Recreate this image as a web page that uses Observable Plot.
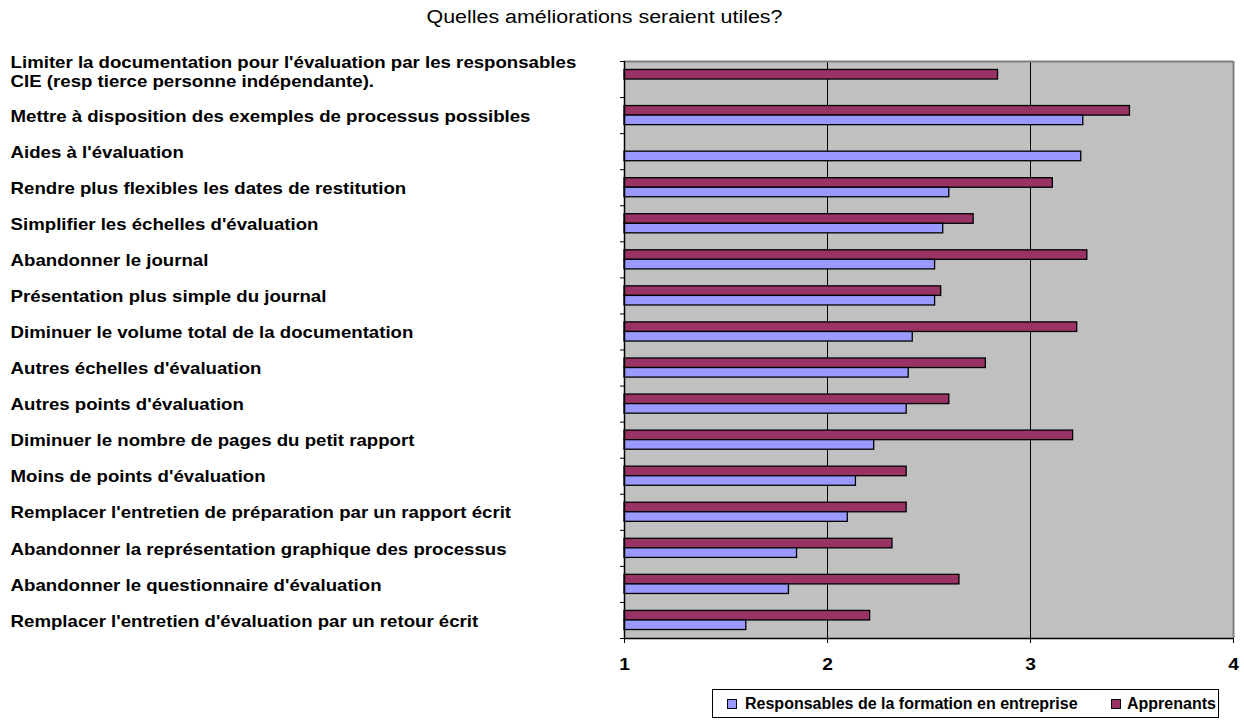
<!DOCTYPE html>
<html>
<head>
<meta charset="utf-8">
<script src="https://cdn.jsdelivr.net/npm/d3@7"></script>
<script src="https://cdn.jsdelivr.net/npm/@observablehq/plot@0.6"></script>
<style>
  html, body { margin: 0; padding: 0; background: #fff; }
  body { font-family: "Liberation Sans", Arial, sans-serif; }
  #wrap { position: relative; width: 1244px; height: 722px; overflow: hidden; }
  #title { position: absolute; left: 0; top: 7px; width: 1209px; text-align: center; font-size: 18px; line-height: 20px; color: #000;
           transform: scaleX(1.19); transform-origin: 604.5px 0; white-space: nowrap; }
  #legend { position: absolute; left: 712px; top: 689px; width: 507px; height: 29px; border: 1px solid #000; box-sizing: border-box; }
  .sw { position: absolute; width: 10px; height: 10px; border: 1px solid #000; box-sizing: border-box; top: 9px; }
  .lt { position: absolute; top: 5px; font-size: 16px; line-height: 18px; font-weight: bold; white-space: nowrap; color: #000; }
</style>
</head>
<body>
<div id="wrap">
  <div id="chart"></div>
  <div id="title"></div>
  <div id="legend"></div>
</div>
<script>
const title = "Quelles améliorations seraient utiles?";
const categories = [
  "Limiter la documentation pour l'évaluation par les responsables\nCIE (resp tierce personne indépendante).",
  "Mettre à disposition des exemples de processus possibles",
  "Aides à l'évaluation",
  "Rendre plus flexibles les dates de restitution",
  "Simplifier les échelles d'évaluation",
  "Abandonner le journal",
  "Présentation plus simple du journal",
  "Diminuer le volume total de la documentation",
  "Autres échelles d'évaluation",
  "Autres points d'évaluation",
  "Diminuer le nombre de pages du petit rapport",
  "Moins de points d'évaluation",
  "Remplacer l'entretien de préparation par un rapport écrit",
  "Abandonner la représentation graphique des processus",
  "Abandonner le questionnaire d'évaluation",
  "Remplacer l'entretien d'évaluation par un retour écrit"
];
const seriesNames = ["Responsables de la formation en entreprise", "Apprenants"];
const responsables = [null, 3.26, 3.25, 2.60, 2.57, 2.53, 2.53, 2.42, 2.40, 2.39, 2.23, 2.14, 2.10, 1.85, 1.81, 1.60];
const apprenants   = [2.84, 3.49, null, 3.11, 2.72, 3.28, 2.56, 3.23, 2.78, 2.60, 3.21, 2.39, 2.39, 2.32, 2.65, 2.21];
const xTicks = [1, 2, 3, 4];
const colors = {"Responsables de la formation en entreprise": "#9999FF", "Apprenants": "#993366"};

const rows = categories.map((c, i) => ({cat: c, i, resp: responsables[i], app: apprenants[i], multi: c.includes("\n")}));
const baseline = xTicks[0];

const labelStyle = {frameAnchor: "left", dx: -614, text: "cat", textAnchor: "start", lineAnchor: "middle",
  fontSize: 16, fontWeight: "bold", fill: "#000", lineHeight: 1.2, className: "catlabels"};

const chart = Plot.plot({
  width: 1244,
  height: 722,
  marginTop: 61,
  marginBottom: 84,
  marginLeft: 624,
  marginRight: 11,
  style: {fontFamily: "'Liberation Sans', Arial, sans-serif", background: "transparent", overflow: "visible"},
  x: {domain: [xTicks[0], xTicks[xTicks.length - 1]]},
  y: {domain: [0, categories.length], reverse: true},
  marks: [
    Plot.frame({fill: "#C0C0C0", stroke: "none"}),
    Plot.ruleX(xTicks.slice(1, -1), {stroke: "#000", strokeWidth: 1}),
    Plot.rect(rows.filter(d => d.app != null), {
      x1: baseline, x2: "app", y1: d => d.i + 0.235, y2: d => d.i + 0.5,
      fill: colors["Apprenants"], stroke: "#000", strokeWidth: 1.3
    }),
    Plot.rect(rows.filter(d => d.resp != null), {
      x1: baseline, x2: "resp", y1: d => d.i + 0.5, y2: d => d.i + 0.765,
      fill: colors["Responsables de la formation en entreprise"], stroke: "#000", strokeWidth: 1.3
    }),
    Plot.ruleY([0], {stroke: "#808080", strokeWidth: 2}),
    Plot.ruleX([xTicks[xTicks.length - 1]], {stroke: "#808080", strokeWidth: 2}),
    Plot.ruleX([xTicks[0]], {stroke: "#000", strokeWidth: 1.5}),
    Plot.ruleY([categories.length], {stroke: "#000", strokeWidth: 1.5}),
    Plot.axisY({ticks: d3.range(categories.length + 1), tickFormat: () => "", tickSize: 4, label: null}),
    Plot.axisX({ticks: xTicks, tickFormat: () => "", tickSize: 5, label: null}),
    Plot.text(xTicks, {x: d => d, frameAnchor: "bottom", dy: 26, text: d => String(d), lineAnchor: "middle",
      fontSize: 16, fontWeight: "bold", fill: "#000", className: "xlabels"}),
    Plot.text(rows.filter(d => !d.multi), {y: d => d.i + 0.5, ...labelStyle}),
    Plot.text(rows.filter(d => d.multi), {y: d => d.i + 0.5, dy: -8, ...labelStyle})
  ]
});
document.getElementById("chart").appendChild(chart);

// widen text to mimic the reference's wide glyph rendering
const svg = chart.tagName === "svg" ? chart : chart.querySelector("svg");
svg.querySelectorAll("g.catlabels").forEach(g => {
  const prev = g.getAttribute("transform") || "";
  g.setAttribute("transform", "translate(10,0) scale(1.166,1) translate(-10,0) " + prev);
});
svg.querySelectorAll("g.xlabels text").forEach(t => {
  t.setAttribute("transform", (t.getAttribute("transform") || "") + " scale(1.2,1)");
});

document.getElementById("title").textContent = title;

const legend = document.getElementById("legend");
const legendPos = [{sw: 14, tx: 32}, {sw: 398, tx: 414}];
seriesNames.forEach((s, k) => {
  const sw = document.createElement("span");
  sw.className = "sw";
  sw.style.left = legendPos[k].sw + "px";
  sw.style.background = colors[s];
  legend.appendChild(sw);
  const t = document.createElement("span");
  t.className = "lt";
  t.style.left = legendPos[k].tx + "px";
  t.textContent = s;
  legend.appendChild(t);
});
</script>
</body>
</html>
